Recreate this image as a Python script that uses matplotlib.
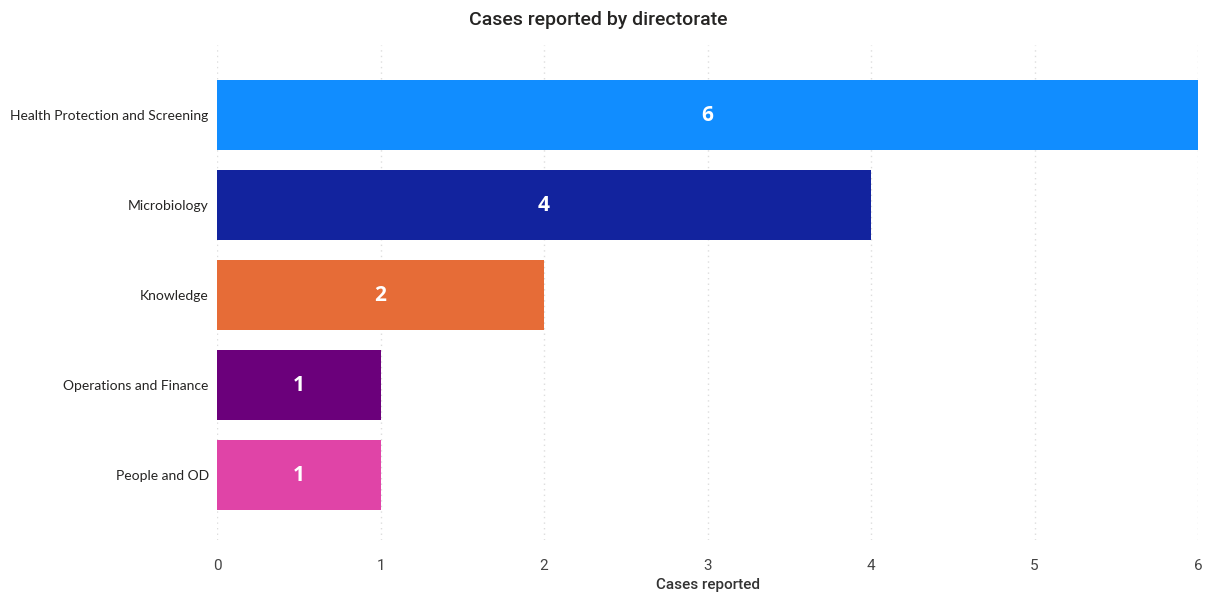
import matplotlib
matplotlib.use("Agg")
import matplotlib.pyplot as plt

categories = ["Health Protection and Screening", "Microbiology", "Knowledge",
              "Operations and Finance", "People and OD"]
values = [6, 4, 2, 1, 1]
colors = ["#118DFF", "#12239E", "#E66C37", "#6B007B", "#E044A7"]
xticks = [0, 1, 2, 3, 4, 5, 6]

fig = plt.figure(figsize=(12.07, 5.94), dpi=100)
ax = fig.add_axes([217/1207, 1-540/594, (1198-217)/1207, (540-45)/594])

y = list(range(len(categories)))
bars = ax.barh(y, values, height=0.778, color=colors, zorder=3)
for yi, v in zip(y, values):
    ax.text(v/2, yi, str(v), ha="center", va="center", color="white",
            fontsize=15, fontweight="bold", family="Open Sans", zorder=4)

ax.set_ylim(4.722, -0.778)
ax.set_xlim(0, 6)
ax.set_yticks(y)
ax.set_yticklabels(categories, family="Lato", fontsize=10, color="#252423")
ax.set_xticks(xticks)
ax.set_xticklabels([str(t) for t in xticks], family="Roboto", fontsize=11, color="#444444")
ax.tick_params(length=0)
ax.tick_params(axis="x", pad=14)
ax.tick_params(axis="y", pad=6)
ax.grid(axis="x", color="#DDDDDD", linestyle=(0, (1, 3)), linewidth=1, zorder=0)
for s in ax.spines.values():
    s.set_visible(False)
ax.set_xlabel("Cases reported", family="Roboto", fontsize=11, fontweight="medium",
              color="#333333")
ax.xaxis.set_label_coords(0.5, -(585-540)/(540-45))
ax.xaxis.label.set_va("center")
fig.text(598/1207, 1-20/594, "Cases reported by directorate", ha="center", va="center",
         family="Roboto", fontsize=14, fontweight="medium", color="#252423")

fig.savefig("out.png", dpi=100)
